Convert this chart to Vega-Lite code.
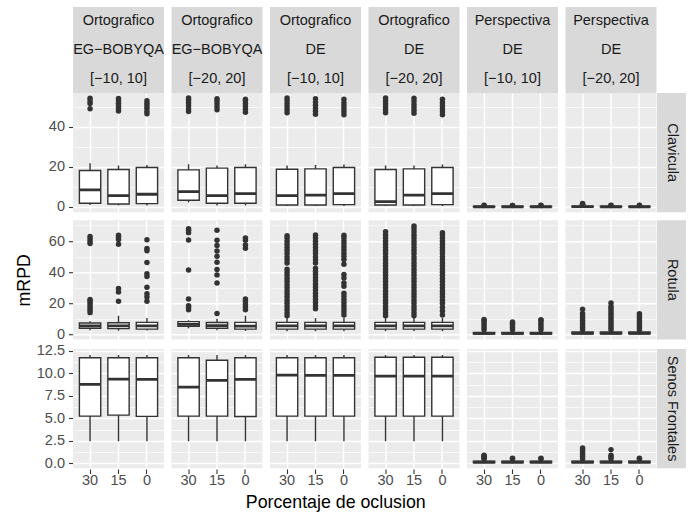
{
"$schema": "https://vega.github.io/schema/vega-lite/v6.json",
"padding": {"left": 15, "top": 7, "right": 6, "bottom": 2},
"autosize": {"type": "pad"},
"background": "white",
"config": {
  "font": "Liberation Sans",
  "view": {"fill": "#EBEBEB", "stroke": null},
  "axis": {"domain": false, "gridColor": "#FFFFFF", "tickColor": "#333333", "tickWidth": 1.1, "tickSize": 4.5, "labelFontSize": 14.5, "labelColor": "#4D4D4D", "titleFontSize": 17.8, "titleFontWeight": "normal", "titleColor": "#000000", "labelFont": "Liberation Sans", "titleFont": "Liberation Sans", "labelOverlap": false},
  "axisY": {"minExtent": 37, "maxExtent": 37, "titlePadding": 3, "labelPadding": 4, "tickCount": 30},
  "axisX": {"labelPadding": 0, "gridWidth": 1.4, "labelAngle": 0}
},
"datasets": {"all": [
{"t":"s","c":1,"lab":"Ortografico\nEG−BOBYQA\n[−10, 10]"},
{"t":"s","c":2,"lab":"Ortografico\nEG−BOBYQA\n[−20, 20]"},
{"t":"s","c":3,"lab":"Ortografico\nDE\n[−10, 10]"},
{"t":"s","c":4,"lab":"Ortografico\nDE\n[−20, 20]"},
{"t":"s","c":5,"lab":"Perspectiva\nDE\n[−10, 10]"},
{"t":"s","c":6,"lab":"Perspectiva\nDE\n[−20, 20]"},
{"t":"r","g":"C","lab":"Clavicula"},
{"t":"r","g":"R","lab":"Rotula"},
{"t":"r","g":"S","lab":"Senos Frontales"},
{"t":"b","g":"C","c":1,"x":"30","lo":1.0,"q1":1.85,"md":8.5,"q3":18.2,"hi":21.8},
{"t":"b","g":"C","c":1,"x":"15","lo":0.8,"q1":1.5,"md":5.7,"q3":18.7,"hi":20.7},
{"t":"b","g":"C","c":1,"x":"0","lo":0.8,"q1":1.7,"md":6.35,"q3":19.7,"hi":21.0},
{"t":"b","g":"C","c":2,"x":"30","lo":2.3,"q1":3.35,"md":7.7,"q3":18.5,"hi":21.3},
{"t":"b","g":"C","c":2,"x":"15","lo":0.8,"q1":1.85,"md":5.7,"q3":19.4,"hi":20.7},
{"t":"b","g":"C","c":2,"x":"0","lo":0.8,"q1":1.85,"md":6.7,"q3":19.7,"hi":21.3},
{"t":"b","g":"C","c":3,"x":"30","lo":0.5,"q1":1.0,"md":5.7,"q3":18.85,"hi":20.7},
{"t":"b","g":"C","c":3,"x":"15","lo":0.5,"q1":1.0,"md":5.95,"q3":19.0,"hi":21.0},
{"t":"b","g":"C","c":3,"x":"0","lo":0.5,"q1":1.2,"md":6.7,"q3":19.7,"hi":21.2},
{"t":"b","g":"C","c":4,"x":"30","lo":0.5,"q1":1.0,"md":2.7,"q3":18.7,"hi":20.7},
{"t":"b","g":"C","c":4,"x":"15","lo":0.5,"q1":1.0,"md":5.95,"q3":19.0,"hi":20.7},
{"t":"b","g":"C","c":4,"x":"0","lo":0.5,"q1":1.2,"md":6.7,"q3":19.7,"hi":21.2},
{"t":"b","g":"C","c":5,"x":"30","lo":0.0,"q1":0.05,"md":0.12,"q3":0.3,"hi":0.6},
{"t":"b","g":"C","c":5,"x":"15","lo":0.0,"q1":0.05,"md":0.12,"q3":0.3,"hi":0.55},
{"t":"b","g":"C","c":5,"x":"0","lo":0.0,"q1":0.05,"md":0.12,"q3":0.3,"hi":0.55},
{"t":"b","g":"C","c":6,"x":"30","lo":0.0,"q1":0.05,"md":0.15,"q3":0.35,"hi":0.7},
{"t":"b","g":"C","c":6,"x":"15","lo":0.0,"q1":0.05,"md":0.12,"q3":0.3,"hi":0.55},
{"t":"b","g":"C","c":6,"x":"0","lo":0.0,"q1":0.05,"md":0.12,"q3":0.3,"hi":0.55},
{"t":"b","g":"R","c":1,"x":"30","lo":2.6,"q1":3.9,"md":5.5,"q3":7.3,"hi":8.5},
{"t":"b","g":"R","c":1,"x":"15","lo":2.3,"q1":3.7,"md":5.5,"q3":7.5,"hi":12.0},
{"t":"b","g":"R","c":1,"x":"0","lo":2.5,"q1":3.4,"md":5.5,"q3":7.7,"hi":10.5},
{"t":"b","g":"R","c":2,"x":"30","lo":3.9,"q1":5.2,"md":6.4,"q3":8.2,"hi":9.1},
{"t":"b","g":"R","c":2,"x":"15","lo":2.6,"q1":3.9,"md":5.6,"q3":7.6,"hi":10.0},
{"t":"b","g":"R","c":2,"x":"0","lo":2.2,"q1":3.4,"md":5.3,"q3":7.7,"hi":12.0},
{"t":"b","g":"R","c":3,"x":"30","lo":2.0,"q1":3.4,"md":5.5,"q3":7.7,"hi":10.5},
{"t":"b","g":"R","c":3,"x":"15","lo":2.0,"q1":3.4,"md":5.5,"q3":7.7,"hi":10.5},
{"t":"b","g":"R","c":3,"x":"0","lo":2.0,"q1":3.4,"md":5.5,"q3":7.7,"hi":10.5},
{"t":"b","g":"R","c":4,"x":"30","lo":2.0,"q1":3.4,"md":5.5,"q3":7.7,"hi":10.5},
{"t":"b","g":"R","c":4,"x":"15","lo":2.0,"q1":3.4,"md":5.5,"q3":7.7,"hi":10.5},
{"t":"b","g":"R","c":4,"x":"0","lo":2.0,"q1":3.4,"md":5.5,"q3":7.7,"hi":10.5},
{"t":"b","g":"R","c":5,"x":"30","lo":0.0,"q1":0.2,"md":0.6,"q3":1.3,"hi":2.9},
{"t":"b","g":"R","c":5,"x":"15","lo":0.0,"q1":0.2,"md":0.6,"q3":1.3,"hi":2.9},
{"t":"b","g":"R","c":5,"x":"0","lo":0.0,"q1":0.2,"md":0.6,"q3":1.3,"hi":2.9},
{"t":"b","g":"R","c":6,"x":"30","lo":0.0,"q1":0.3,"md":0.7,"q3":1.5,"hi":3.0},
{"t":"b","g":"R","c":6,"x":"15","lo":0.0,"q1":0.3,"md":0.7,"q3":1.5,"hi":3.0},
{"t":"b","g":"R","c":6,"x":"0","lo":0.0,"q1":0.3,"md":0.7,"q3":1.5,"hi":3.0},
{"t":"b","g":"S","c":1,"x":"30","lo":2.45,"q1":5.25,"md":8.78,"q3":11.75,"hi":12.05},
{"t":"b","g":"S","c":1,"x":"15","lo":2.45,"q1":5.36,"md":9.37,"q3":11.75,"hi":12.05},
{"t":"b","g":"S","c":1,"x":"0","lo":2.45,"q1":5.22,"md":9.33,"q3":11.75,"hi":12.05},
{"t":"b","g":"S","c":2,"x":"30","lo":2.45,"q1":5.25,"md":8.48,"q3":11.75,"hi":12.05},
{"t":"b","g":"S","c":2,"x":"15","lo":2.45,"q1":5.25,"md":9.22,"q3":11.46,"hi":12.05},
{"t":"b","g":"S","c":2,"x":"0","lo":2.45,"q1":5.2,"md":9.33,"q3":11.75,"hi":12.05},
{"t":"b","g":"S","c":3,"x":"30","lo":2.45,"q1":5.25,"md":9.82,"q3":11.75,"hi":12.05},
{"t":"b","g":"S","c":3,"x":"15","lo":2.45,"q1":5.25,"md":9.78,"q3":11.75,"hi":12.05},
{"t":"b","g":"S","c":3,"x":"0","lo":2.45,"q1":5.25,"md":9.78,"q3":11.75,"hi":12.05},
{"t":"b","g":"S","c":4,"x":"30","lo":2.45,"q1":5.25,"md":9.7,"q3":11.8,"hi":12.05},
{"t":"b","g":"S","c":4,"x":"15","lo":2.45,"q1":5.25,"md":9.7,"q3":11.8,"hi":12.05},
{"t":"b","g":"S","c":4,"x":"0","lo":2.45,"q1":5.25,"md":9.7,"q3":11.8,"hi":12.05},
{"t":"b","g":"S","c":5,"x":"30","lo":0.0,"q1":0.05,"md":0.12,"q3":0.22,"hi":0.45},
{"t":"b","g":"S","c":5,"x":"15","lo":0.0,"q1":0.05,"md":0.12,"q3":0.22,"hi":0.45},
{"t":"b","g":"S","c":5,"x":"0","lo":0.0,"q1":0.05,"md":0.12,"q3":0.22,"hi":0.45},
{"t":"b","g":"S","c":6,"x":"30","lo":0.0,"q1":0.05,"md":0.12,"q3":0.22,"hi":0.45},
{"t":"b","g":"S","c":6,"x":"15","lo":0.0,"q1":0.05,"md":0.12,"q3":0.22,"hi":0.45},
{"t":"b","g":"S","c":6,"x":"0","lo":0.0,"q1":0.05,"md":0.12,"q3":0.22,"hi":0.45},
{"t":"o","g":"C","c":1,"x":"30","v":49.0},{"t":"o","g":"C","c":1,"x":"30","v":51.6},{"t":"o","g":"C","c":1,"x":"30","v":52.9},{"t":"o","g":"C","c":1,"x":"30","v":54.2},
{"t":"o","g":"C","c":1,"x":"15","v":47.9},{"t":"o","g":"C","c":1,"x":"15","v":49.2},{"t":"o","g":"C","c":1,"x":"15","v":50.5},{"t":"o","g":"C","c":1,"x":"15","v":51.8},{"t":"o","g":"C","c":1,"x":"15","v":53.0},{"t":"o","g":"C","c":1,"x":"15","v":54.1},
{"t":"o","g":"C","c":1,"x":"0","v":46.5},{"t":"o","g":"C","c":1,"x":"0","v":47.8},{"t":"o","g":"C","c":1,"x":"0","v":49.2},{"t":"o","g":"C","c":1,"x":"0","v":50.5},{"t":"o","g":"C","c":1,"x":"0","v":51.8},{"t":"o","g":"C","c":1,"x":"0","v":53.0},
{"t":"o","g":"C","c":2,"x":"30","v":47.6},{"t":"o","g":"C","c":2,"x":"30","v":49.0},{"t":"o","g":"C","c":2,"x":"30","v":50.5},{"t":"o","g":"C","c":2,"x":"30","v":52.0},{"t":"o","g":"C","c":2,"x":"30","v":53.4},{"t":"o","g":"C","c":2,"x":"30","v":54.4},
{"t":"o","g":"C","c":2,"x":"15","v":48.5},{"t":"o","g":"C","c":2,"x":"15","v":50.0},{"t":"o","g":"C","c":2,"x":"15","v":51.5},{"t":"o","g":"C","c":2,"x":"15","v":53.0},{"t":"o","g":"C","c":2,"x":"15","v":54.0},
{"t":"o","g":"C","c":2,"x":"0","v":47.3},{"t":"o","g":"C","c":2,"x":"0","v":48.7},{"t":"o","g":"C","c":2,"x":"0","v":50.2},{"t":"o","g":"C","c":2,"x":"0","v":51.6},{"t":"o","g":"C","c":2,"x":"0","v":53.0},{"t":"o","g":"C","c":2,"x":"0","v":53.7},
{"t":"o","g":"C","c":3,"x":"30","v":47.0},{"t":"o","g":"C","c":3,"x":"30","v":48.5},{"t":"o","g":"C","c":3,"x":"30","v":50.0},{"t":"o","g":"C","c":3,"x":"30","v":51.5},{"t":"o","g":"C","c":3,"x":"30","v":53.0},{"t":"o","g":"C","c":3,"x":"30","v":54.4},
{"t":"o","g":"C","c":3,"x":"15","v":46.3},{"t":"o","g":"C","c":3,"x":"15","v":47.8},{"t":"o","g":"C","c":3,"x":"15","v":49.3},{"t":"o","g":"C","c":3,"x":"15","v":50.8},{"t":"o","g":"C","c":3,"x":"15","v":52.3},{"t":"o","g":"C","c":3,"x":"15","v":54.0},
{"t":"o","g":"C","c":3,"x":"0","v":46.0},{"t":"o","g":"C","c":3,"x":"0","v":47.5},{"t":"o","g":"C","c":3,"x":"0","v":49.0},{"t":"o","g":"C","c":3,"x":"0","v":50.5},{"t":"o","g":"C","c":3,"x":"0","v":52.0},{"t":"o","g":"C","c":3,"x":"0","v":53.7},
{"t":"o","g":"C","c":4,"x":"30","v":47.0},{"t":"o","g":"C","c":4,"x":"30","v":48.5},{"t":"o","g":"C","c":4,"x":"30","v":50.0},{"t":"o","g":"C","c":4,"x":"30","v":51.5},{"t":"o","g":"C","c":4,"x":"30","v":53.0},{"t":"o","g":"C","c":4,"x":"30","v":54.4},
{"t":"o","g":"C","c":4,"x":"15","v":46.8},{"t":"o","g":"C","c":4,"x":"15","v":48.3},{"t":"o","g":"C","c":4,"x":"15","v":49.8},{"t":"o","g":"C","c":4,"x":"15","v":51.3},{"t":"o","g":"C","c":4,"x":"15","v":52.8},{"t":"o","g":"C","c":4,"x":"15","v":54.2},
{"t":"o","g":"C","c":4,"x":"0","v":46.0},{"t":"o","g":"C","c":4,"x":"0","v":47.5},{"t":"o","g":"C","c":4,"x":"0","v":49.0},{"t":"o","g":"C","c":4,"x":"0","v":50.5},{"t":"o","g":"C","c":4,"x":"0","v":52.0},{"t":"o","g":"C","c":4,"x":"0","v":53.7},
{"t":"o","g":"C","c":5,"x":"30","v":0.75},{"t":"o","g":"C","c":5,"x":"30","v":0.9},
{"t":"o","g":"C","c":5,"x":"15","v":0.7},{"t":"o","g":"C","c":5,"x":"15","v":0.8},
{"t":"o","g":"C","c":5,"x":"0","v":0.7},{"t":"o","g":"C","c":5,"x":"0","v":0.85},
{"t":"o","g":"C","c":6,"x":"30","v":0.8},{"t":"o","g":"C","c":6,"x":"30","v":1.1},{"t":"o","g":"C","c":6,"x":"30","v":1.4},{"t":"o","g":"C","c":6,"x":"30","v":1.7},
{"t":"o","g":"C","c":6,"x":"15","v":0.7},{"t":"o","g":"C","c":6,"x":"15","v":0.9},
{"t":"o","g":"C","c":6,"x":"0","v":0.7},{"t":"o","g":"C","c":6,"x":"0","v":0.85},
{"t":"o","g":"R","c":1,"x":"30","v":14.0},{"t":"o","g":"R","c":1,"x":"30","v":15.5},{"t":"o","g":"R","c":1,"x":"30","v":17.0},{"t":"o","g":"R","c":1,"x":"30","v":18.5},{"t":"o","g":"R","c":1,"x":"30","v":20.0},{"t":"o","g":"R","c":1,"x":"30","v":21.5},{"t":"o","g":"R","c":1,"x":"30","v":22.5},{"t":"o","g":"R","c":1,"x":"30","v":58.5},{"t":"o","g":"R","c":1,"x":"30","v":60.0},{"t":"o","g":"R","c":1,"x":"30","v":61.5},{"t":"o","g":"R","c":1,"x":"30","v":63.0},
{"t":"o","g":"R","c":1,"x":"15","v":21.3},{"t":"o","g":"R","c":1,"x":"15","v":27.3},{"t":"o","g":"R","c":1,"x":"15","v":29.5},{"t":"o","g":"R","c":1,"x":"15","v":58.0},{"t":"o","g":"R","c":1,"x":"15","v":61.0},{"t":"o","g":"R","c":1,"x":"15","v":62.5},{"t":"o","g":"R","c":1,"x":"15","v":63.8},
{"t":"o","g":"R","c":1,"x":"0","v":21.3},{"t":"o","g":"R","c":1,"x":"0","v":24.0},{"t":"o","g":"R","c":1,"x":"0","v":26.2},{"t":"o","g":"R","c":1,"x":"0","v":30.3},{"t":"o","g":"R","c":1,"x":"0","v":37.2},{"t":"o","g":"R","c":1,"x":"0","v":39.1},{"t":"o","g":"R","c":1,"x":"0","v":46.3},{"t":"o","g":"R","c":1,"x":"0","v":53.8},{"t":"o","g":"R","c":1,"x":"0","v":55.3},{"t":"o","g":"R","c":1,"x":"0","v":60.9},
{"t":"o","g":"R","c":2,"x":"30","v":15.9},{"t":"o","g":"R","c":2,"x":"30","v":17.5},{"t":"o","g":"R","c":2,"x":"30","v":18.5},{"t":"o","g":"R","c":2,"x":"30","v":22.8},{"t":"o","g":"R","c":2,"x":"30","v":41.5},{"t":"o","g":"R","c":2,"x":"30","v":60.8},{"t":"o","g":"R","c":2,"x":"30","v":65.5},{"t":"o","g":"R","c":2,"x":"30","v":67.0},{"t":"o","g":"R","c":2,"x":"30","v":68.0},
{"t":"o","g":"R","c":2,"x":"15","v":13.4},{"t":"o","g":"R","c":2,"x":"15","v":33.1},{"t":"o","g":"R","c":2,"x":"15","v":38.3},{"t":"o","g":"R","c":2,"x":"15","v":41.7},{"t":"o","g":"R","c":2,"x":"15","v":46.5},{"t":"o","g":"R","c":2,"x":"15","v":50.3},{"t":"o","g":"R","c":2,"x":"15","v":53.7},{"t":"o","g":"R","c":2,"x":"15","v":57.2},{"t":"o","g":"R","c":2,"x":"15","v":60.6},{"t":"o","g":"R","c":2,"x":"15","v":67.1},
{"t":"o","g":"R","c":2,"x":"0","v":15.9},{"t":"o","g":"R","c":2,"x":"0","v":17.5},{"t":"o","g":"R","c":2,"x":"0","v":19.3},{"t":"o","g":"R","c":2,"x":"0","v":21.3},{"t":"o","g":"R","c":2,"x":"0","v":22.8},{"t":"o","g":"R","c":2,"x":"0","v":55.5},{"t":"o","g":"R","c":2,"x":"0","v":57.5},{"t":"o","g":"R","c":2,"x":"0","v":60.6},{"t":"o","g":"R","c":2,"x":"0","v":62.0},
{"t":"o","g":"R","c":3,"x":"30","v":12},{"t":"o","g":"R","c":3,"x":"30","v":14},{"t":"o","g":"R","c":3,"x":"30","v":16},{"t":"o","g":"R","c":3,"x":"30","v":18},{"t":"o","g":"R","c":3,"x":"30","v":20},{"t":"o","g":"R","c":3,"x":"30","v":22},{"t":"o","g":"R","c":3,"x":"30","v":24},{"t":"o","g":"R","c":3,"x":"30","v":26},{"t":"o","g":"R","c":3,"x":"30","v":28},{"t":"o","g":"R","c":3,"x":"30","v":30},{"t":"o","g":"R","c":3,"x":"30","v":32},{"t":"o","g":"R","c":3,"x":"30","v":34},{"t":"o","g":"R","c":3,"x":"30","v":36},{"t":"o","g":"R","c":3,"x":"30","v":38},{"t":"o","g":"R","c":3,"x":"30","v":40},{"t":"o","g":"R","c":3,"x":"30","v":42},{"t":"o","g":"R","c":3,"x":"30","v":46},{"t":"o","g":"R","c":3,"x":"30","v":48},{"t":"o","g":"R","c":3,"x":"30","v":50},{"t":"o","g":"R","c":3,"x":"30","v":52},{"t":"o","g":"R","c":3,"x":"30","v":54},{"t":"o","g":"R","c":3,"x":"30","v":56},{"t":"o","g":"R","c":3,"x":"30","v":58},{"t":"o","g":"R","c":3,"x":"30","v":60},{"t":"o","g":"R","c":3,"x":"30","v":62},{"t":"o","g":"R","c":3,"x":"30","v":63.5},
{"t":"o","g":"R","c":3,"x":"15","v":16.5},{"t":"o","g":"R","c":3,"x":"15","v":18.5},{"t":"o","g":"R","c":3,"x":"15","v":20.5},{"t":"o","g":"R","c":3,"x":"15","v":22.5},{"t":"o","g":"R","c":3,"x":"15","v":24.5},{"t":"o","g":"R","c":3,"x":"15","v":26.5},{"t":"o","g":"R","c":3,"x":"15","v":28.5},{"t":"o","g":"R","c":3,"x":"15","v":30.5},{"t":"o","g":"R","c":3,"x":"15","v":32.5},{"t":"o","g":"R","c":3,"x":"15","v":34.5},{"t":"o","g":"R","c":3,"x":"15","v":36.5},{"t":"o","g":"R","c":3,"x":"15","v":38.5},{"t":"o","g":"R","c":3,"x":"15","v":40.5},{"t":"o","g":"R","c":3,"x":"15","v":42.5},{"t":"o","g":"R","c":3,"x":"15","v":46},{"t":"o","g":"R","c":3,"x":"15","v":48},{"t":"o","g":"R","c":3,"x":"15","v":50},{"t":"o","g":"R","c":3,"x":"15","v":52},{"t":"o","g":"R","c":3,"x":"15","v":54},{"t":"o","g":"R","c":3,"x":"15","v":56},{"t":"o","g":"R","c":3,"x":"15","v":58},{"t":"o","g":"R","c":3,"x":"15","v":60},{"t":"o","g":"R","c":3,"x":"15","v":62},{"t":"o","g":"R","c":3,"x":"15","v":64},
{"t":"o","g":"R","c":3,"x":"0","v":12.5},{"t":"o","g":"R","c":3,"x":"0","v":14.5},{"t":"o","g":"R","c":3,"x":"0","v":16.5},{"t":"o","g":"R","c":3,"x":"0","v":18.5},{"t":"o","g":"R","c":3,"x":"0","v":20.5},{"t":"o","g":"R","c":3,"x":"0","v":22.5},{"t":"o","g":"R","c":3,"x":"0","v":24.5},{"t":"o","g":"R","c":3,"x":"0","v":26.5},{"t":"o","g":"R","c":3,"x":"0","v":31},{"t":"o","g":"R","c":3,"x":"0","v":33},{"t":"o","g":"R","c":3,"x":"0","v":36.3},{"t":"o","g":"R","c":3,"x":"0","v":38.5},{"t":"o","g":"R","c":3,"x":"0","v":45.2},{"t":"o","g":"R","c":3,"x":"0","v":48.2},{"t":"o","g":"R","c":3,"x":"0","v":50.3},{"t":"o","g":"R","c":3,"x":"0","v":52.3},{"t":"o","g":"R","c":3,"x":"0","v":54.3},{"t":"o","g":"R","c":3,"x":"0","v":56.3},{"t":"o","g":"R","c":3,"x":"0","v":58.3},{"t":"o","g":"R","c":3,"x":"0","v":60.3},{"t":"o","g":"R","c":3,"x":"0","v":62.3},{"t":"o","g":"R","c":3,"x":"0","v":63.8},
{"t":"o","g":"R","c":4,"x":"30","v":12},{"t":"o","g":"R","c":4,"x":"30","v":14},{"t":"o","g":"R","c":4,"x":"30","v":16},{"t":"o","g":"R","c":4,"x":"30","v":18},{"t":"o","g":"R","c":4,"x":"30","v":20},{"t":"o","g":"R","c":4,"x":"30","v":22},{"t":"o","g":"R","c":4,"x":"30","v":24},{"t":"o","g":"R","c":4,"x":"30","v":26},{"t":"o","g":"R","c":4,"x":"30","v":28},{"t":"o","g":"R","c":4,"x":"30","v":30},{"t":"o","g":"R","c":4,"x":"30","v":32},{"t":"o","g":"R","c":4,"x":"30","v":34},{"t":"o","g":"R","c":4,"x":"30","v":36},{"t":"o","g":"R","c":4,"x":"30","v":38},{"t":"o","g":"R","c":4,"x":"30","v":40},{"t":"o","g":"R","c":4,"x":"30","v":42},{"t":"o","g":"R","c":4,"x":"30","v":44},{"t":"o","g":"R","c":4,"x":"30","v":46},{"t":"o","g":"R","c":4,"x":"30","v":48},{"t":"o","g":"R","c":4,"x":"30","v":50},{"t":"o","g":"R","c":4,"x":"30","v":52},{"t":"o","g":"R","c":4,"x":"30","v":54},{"t":"o","g":"R","c":4,"x":"30","v":56},{"t":"o","g":"R","c":4,"x":"30","v":58},{"t":"o","g":"R","c":4,"x":"30","v":60},{"t":"o","g":"R","c":4,"x":"30","v":62},{"t":"o","g":"R","c":4,"x":"30","v":64},{"t":"o","g":"R","c":4,"x":"30","v":66},
{"t":"o","g":"R","c":4,"x":"15","v":12},{"t":"o","g":"R","c":4,"x":"15","v":14},{"t":"o","g":"R","c":4,"x":"15","v":16},{"t":"o","g":"R","c":4,"x":"15","v":18},{"t":"o","g":"R","c":4,"x":"15","v":20},{"t":"o","g":"R","c":4,"x":"15","v":22},{"t":"o","g":"R","c":4,"x":"15","v":24},{"t":"o","g":"R","c":4,"x":"15","v":26},{"t":"o","g":"R","c":4,"x":"15","v":28},{"t":"o","g":"R","c":4,"x":"15","v":30},{"t":"o","g":"R","c":4,"x":"15","v":32},{"t":"o","g":"R","c":4,"x":"15","v":34},{"t":"o","g":"R","c":4,"x":"15","v":36},{"t":"o","g":"R","c":4,"x":"15","v":38},{"t":"o","g":"R","c":4,"x":"15","v":40},{"t":"o","g":"R","c":4,"x":"15","v":42},{"t":"o","g":"R","c":4,"x":"15","v":44},{"t":"o","g":"R","c":4,"x":"15","v":46},{"t":"o","g":"R","c":4,"x":"15","v":48},{"t":"o","g":"R","c":4,"x":"15","v":50},{"t":"o","g":"R","c":4,"x":"15","v":52},{"t":"o","g":"R","c":4,"x":"15","v":54},{"t":"o","g":"R","c":4,"x":"15","v":56},{"t":"o","g":"R","c":4,"x":"15","v":58},{"t":"o","g":"R","c":4,"x":"15","v":60},{"t":"o","g":"R","c":4,"x":"15","v":62},{"t":"o","g":"R","c":4,"x":"15","v":64},{"t":"o","g":"R","c":4,"x":"15","v":66},{"t":"o","g":"R","c":4,"x":"15","v":68},{"t":"o","g":"R","c":4,"x":"15","v":69.8},
{"t":"o","g":"R","c":4,"x":"0","v":12.5},{"t":"o","g":"R","c":4,"x":"0","v":15},{"t":"o","g":"R","c":4,"x":"0","v":17.5},{"t":"o","g":"R","c":4,"x":"0","v":20},{"t":"o","g":"R","c":4,"x":"0","v":22},{"t":"o","g":"R","c":4,"x":"0","v":24},{"t":"o","g":"R","c":4,"x":"0","v":26},{"t":"o","g":"R","c":4,"x":"0","v":28},{"t":"o","g":"R","c":4,"x":"0","v":30},{"t":"o","g":"R","c":4,"x":"0","v":32},{"t":"o","g":"R","c":4,"x":"0","v":34},{"t":"o","g":"R","c":4,"x":"0","v":36},{"t":"o","g":"R","c":4,"x":"0","v":38},{"t":"o","g":"R","c":4,"x":"0","v":40},{"t":"o","g":"R","c":4,"x":"0","v":42},{"t":"o","g":"R","c":4,"x":"0","v":44},{"t":"o","g":"R","c":4,"x":"0","v":46},{"t":"o","g":"R","c":4,"x":"0","v":48},{"t":"o","g":"R","c":4,"x":"0","v":50},{"t":"o","g":"R","c":4,"x":"0","v":52},{"t":"o","g":"R","c":4,"x":"0","v":54},{"t":"o","g":"R","c":4,"x":"0","v":56},{"t":"o","g":"R","c":4,"x":"0","v":58},{"t":"o","g":"R","c":4,"x":"0","v":60},{"t":"o","g":"R","c":4,"x":"0","v":62},{"t":"o","g":"R","c":4,"x":"0","v":64},{"t":"o","g":"R","c":4,"x":"0","v":65.5},
{"t":"o","g":"R","c":5,"x":"30","v":3},{"t":"o","g":"R","c":5,"x":"30","v":4.5},{"t":"o","g":"R","c":5,"x":"30","v":6},{"t":"o","g":"R","c":5,"x":"30","v":7.5},{"t":"o","g":"R","c":5,"x":"30","v":9},{"t":"o","g":"R","c":5,"x":"30","v":9.6},
{"t":"o","g":"R","c":5,"x":"15","v":3},{"t":"o","g":"R","c":5,"x":"15","v":4.5},{"t":"o","g":"R","c":5,"x":"15","v":6},{"t":"o","g":"R","c":5,"x":"15","v":7},{"t":"o","g":"R","c":5,"x":"15","v":8},
{"t":"o","g":"R","c":5,"x":"0","v":3},{"t":"o","g":"R","c":5,"x":"0","v":4.5},{"t":"o","g":"R","c":5,"x":"0","v":6},{"t":"o","g":"R","c":5,"x":"0","v":7.5},{"t":"o","g":"R","c":5,"x":"0","v":9},{"t":"o","g":"R","c":5,"x":"0","v":9.5},
{"t":"o","g":"R","c":6,"x":"30","v":3},{"t":"o","g":"R","c":6,"x":"30","v":4.5},{"t":"o","g":"R","c":6,"x":"30","v":6},{"t":"o","g":"R","c":6,"x":"30","v":7.5},{"t":"o","g":"R","c":6,"x":"30","v":9},{"t":"o","g":"R","c":6,"x":"30","v":10.5},{"t":"o","g":"R","c":6,"x":"30","v":12},{"t":"o","g":"R","c":6,"x":"30","v":13.5},{"t":"o","g":"R","c":6,"x":"30","v":16.2},
{"t":"o","g":"R","c":6,"x":"15","v":3},{"t":"o","g":"R","c":6,"x":"15","v":4.5},{"t":"o","g":"R","c":6,"x":"15","v":6},{"t":"o","g":"R","c":6,"x":"15","v":7.5},{"t":"o","g":"R","c":6,"x":"15","v":9},{"t":"o","g":"R","c":6,"x":"15","v":10.5},{"t":"o","g":"R","c":6,"x":"15","v":12},{"t":"o","g":"R","c":6,"x":"15","v":13.5},{"t":"o","g":"R","c":6,"x":"15","v":15},{"t":"o","g":"R","c":6,"x":"15","v":16.5},{"t":"o","g":"R","c":6,"x":"15","v":18},{"t":"o","g":"R","c":6,"x":"15","v":20.2},
{"t":"o","g":"R","c":6,"x":"0","v":3},{"t":"o","g":"R","c":6,"x":"0","v":4.5},{"t":"o","g":"R","c":6,"x":"0","v":6},{"t":"o","g":"R","c":6,"x":"0","v":7.5},{"t":"o","g":"R","c":6,"x":"0","v":9},{"t":"o","g":"R","c":6,"x":"0","v":10.5},{"t":"o","g":"R","c":6,"x":"0","v":12},{"t":"o","g":"R","c":6,"x":"0","v":13.3},
{"t":"o","g":"S","c":5,"x":"30","v":0.5},{"t":"o","g":"S","c":5,"x":"30","v":0.6},{"t":"o","g":"S","c":5,"x":"30","v":0.7},{"t":"o","g":"S","c":5,"x":"30","v":0.8},{"t":"o","g":"S","c":5,"x":"30","v":0.9},
{"t":"o","g":"S","c":5,"x":"15","v":0.5},{"t":"o","g":"S","c":5,"x":"15","v":0.55},
{"t":"o","g":"S","c":5,"x":"0","v":0.5},{"t":"o","g":"S","c":5,"x":"0","v":0.55},
{"t":"o","g":"S","c":6,"x":"30","v":0.5},{"t":"o","g":"S","c":6,"x":"30","v":0.75},{"t":"o","g":"S","c":6,"x":"30","v":1.0},{"t":"o","g":"S","c":6,"x":"30","v":1.25},{"t":"o","g":"S","c":6,"x":"30","v":1.5},{"t":"o","g":"S","c":6,"x":"30","v":1.7},
{"t":"o","g":"S","c":6,"x":"15","v":0.5},{"t":"o","g":"S","c":6,"x":"15","v":0.7},{"t":"o","g":"S","c":6,"x":"15","v":0.9},{"t":"o","g":"S","c":6,"x":"15","v":1.52},
{"t":"o","g":"S","c":6,"x":"0","v":0.5},{"t":"o","g":"S","c":6,"x":"0","v":0.55}
]},
"spacing": 0,
"vconcat": [
 {
  "data": {"name": "all"},
  "transform": [{"filter": "datum.t === 's'"}],
  "facet": {"column": {"field": "c", "type": "ordinal", "header": null}},
  "spacing": {"column": 7.5},
  "spec": {
   "width": 91, "height": 86,
   "view": {"fill": "#D9D9D9", "stroke": null},
   "mark": {"type": "text", "clip": true, "fontSize": 14.5, "color": "#1A1A1A", "lineHeight": 29, "lineBreak": "\n", "baseline": "middle", "align": "center", "dy": -29},
   "encoding": {
    "text": {"field": "lab", "type": "nominal"},
    "y": {"datum": "m", "type": "nominal", "axis": {"labels": false, "ticks": false, "grid": false, "title": "mRPD", "titleOpacity": 0}}
   }
  }
 },
 {
  "spacing": 3.2,
  "vconcat": [
   {
    "spacing": 0,
    "hconcat": [
     {
      "data": {"name": "all"},
      "transform": [{"filter": "datum.g === 'C' && (datum.t === 'b' || datum.t === 'o')"}],
      "facet": {"column": {"field": "c", "type": "ordinal", "header": null}},
      "spacing": {"column": 7.5},
      "spec": {
       "width": 91, "height": 119.3,
       "encoding": {"x": {"field": "x", "type": "nominal", "scale": {"domain": ["30", "15", "0"], "paddingInner": 0.25, "paddingOuter": 0.225}, "axis": {"labels": false, "ticks": false, "title": null, "grid": true, "minExtent": 0, "maxExtent": 0}}},
       "layer": [
        {"transform": [{"filter": "datum.t === 'o'"}], "mark": {"type": "circle", "size": 30, "color": "#333333", "opacity": 1},
         "encoding": {"y": {"field": "v", "type": "quantitative", "title": "mRPD", "scale": {"domain": [-2.65, 56.85], "nice": false, "zero": false},
          "axis": {"values": [0, 10, 20, 30, 40, 50], "tickCount": 30, "labelOverlap": false, "labelExpr": "datum.value % 20 === 0 ? datum.label : ''", "gridWidth": {"condition": {"test": "datum.value % 20 === 0", "value": 1.4}, "value": 0.7}, "tickOpacity": {"condition": {"test": "datum.value % 20 === 0", "value": 1}, "value": 0}, "titleOpacity": 0}}}},
        {"transform": [{"filter": "datum.t === 'b'"}], "mark": {"type": "rule", "color": "#333333", "strokeWidth": 1.4},
         "encoding": {"y": {"field": "lo", "type": "quantitative", "title": "mRPD"}, "y2": {"field": "hi"}}},
        {"transform": [{"filter": "datum.t === 'b'"}], "mark": {"type": "bar", "fill": "#FFFFFF", "stroke": "#333333", "strokeWidth": 1.4},
         "encoding": {"y": {"field": "q1", "type": "quantitative", "title": "mRPD"}, "y2": {"field": "q3"}}},
        {"transform": [{"filter": "datum.t === 'b'"}], "mark": {"type": "bar", "fillOpacity": 0, "stroke": "#333333", "strokeWidth": 2.8},
         "encoding": {"y": {"field": "md", "type": "quantitative", "title": "mRPD"}, "y2": {"field": "md"}}}
       ]
      }
     },
     {
      "width": 29, "height": 119.3,
      "view": {"fill": "#D9D9D9", "stroke": null},
      "data": {"name": "all"},
      "transform": [{"filter": "datum.t === 'r' && datum.g === 'C'"}],
      "mark": {"type": "text", "angle": 90, "fontSize": 14.5, "color": "#1A1A1A", "baseline": "middle", "align": "center"},
      "encoding": {"text": {"field": "lab", "type": "nominal"}}
     }
    ]
   },
   {
    "spacing": 0.8,
    "vconcat": [
     {
      "spacing": 0,
      "hconcat": [
       {
        "data": {"name": "all"},
        "transform": [{"filter": "datum.g === 'R' && (datum.t === 'b' || datum.t === 'o')"}],
        "facet": {"column": {"field": "c", "type": "ordinal", "header": null}},
        "spacing": {"column": 7.5},
        "spec": {
         "width": 91, "height": 119.3,
         "encoding": {"x": {"field": "x", "type": "nominal", "scale": {"domain": ["30", "15", "0"], "paddingInner": 0.25, "paddingOuter": 0.225}, "axis": {"labels": false, "ticks": false, "title": null, "grid": true, "minExtent": 0, "maxExtent": 0}}},
         "layer": [
          {"transform": [{"filter": "datum.t === 'o'"}], "mark": {"type": "circle", "size": 30, "color": "#333333", "opacity": 1},
           "encoding": {"y": {"field": "v", "type": "quantitative", "title": "mRPD", "scale": {"domain": [-3.3, 73.5], "nice": false, "zero": false},
            "axis": {"values": [0, 10, 20, 30, 40, 50, 60, 70], "tickCount": 30, "labelOverlap": false, "labelExpr": "datum.value % 20 === 0 ? datum.label : ''", "gridWidth": {"condition": {"test": "datum.value % 20 === 0", "value": 1.4}, "value": 0.7}, "tickOpacity": {"condition": {"test": "datum.value % 20 === 0", "value": 1}, "value": 0}}}}},
          {"transform": [{"filter": "datum.t === 'b'"}], "mark": {"type": "rule", "color": "#333333", "strokeWidth": 1.4},
           "encoding": {"y": {"field": "lo", "type": "quantitative", "title": "mRPD"}, "y2": {"field": "hi"}}},
          {"transform": [{"filter": "datum.t === 'b'"}], "mark": {"type": "bar", "fill": "#FFFFFF", "stroke": "#333333", "strokeWidth": 1.4},
           "encoding": {"y": {"field": "q1", "type": "quantitative", "title": "mRPD"}, "y2": {"field": "q3"}}},
          {"transform": [{"filter": "datum.t === 'b'"}], "mark": {"type": "bar", "fillOpacity": 0, "stroke": "#333333", "strokeWidth": 2.8},
           "encoding": {"y": {"field": "md", "type": "quantitative", "title": "mRPD"}, "y2": {"field": "md"}}}
         ]
        }
       },
       {
        "width": 29, "height": 119.3,
        "view": {"fill": "#D9D9D9", "stroke": null},
        "data": {"name": "all"},
        "transform": [{"filter": "datum.t === 'r' && datum.g === 'R'"}],
        "mark": {"type": "text", "angle": 90, "fontSize": 14.5, "color": "#1A1A1A", "baseline": "middle", "align": "center"},
        "encoding": {"text": {"field": "lab", "type": "nominal"}}
       }
      ]
     },
     {
      "spacing": 0,
      "hconcat": [
       {
        "data": {"name": "all"},
        "transform": [{"filter": "datum.g === 'S' && (datum.t === 'b' || datum.t === 'o')"}],
        "facet": {"column": {"field": "c", "type": "ordinal", "header": null}},
        "spacing": {"column": 7.5},
        "title": {"text": "Porcentaje de oclusion", "orient": "bottom", "anchor": "middle", "fontSize": 17.8, "fontWeight": "normal", "color": "#000000", "font": "Liberation Sans", "offset": 7},
        "spec": {
         "width": 91, "height": 119.3,
         "encoding": {"x": {"field": "x", "type": "nominal", "scale": {"domain": ["30", "15", "0"], "paddingInner": 0.25, "paddingOuter": 0.225}, "axis": {"title": null, "grid": true}}},
         "layer": [
          {"transform": [{"filter": "datum.t === 'o'"}], "mark": {"type": "circle", "size": 30, "color": "#333333", "opacity": 1},
           "encoding": {"y": {"field": "v", "type": "quantitative", "title": "mRPD", "scale": {"domain": [-0.56, 12.72], "nice": false, "zero": false},
            "axis": {"values": [0, 1.25, 2.5, 3.75, 5, 6.25, 7.5, 8.75, 10, 11.25, 12.5], "tickCount": 30, "labelOverlap": false, "format": ".1f", "labelExpr": "datum.value % 2.5 === 0 ? datum.label : ''", "gridWidth": {"condition": {"test": "datum.value % 2.5 === 0", "value": 1.4}, "value": 0.7}, "tickOpacity": {"condition": {"test": "datum.value % 2.5 === 0", "value": 1}, "value": 0}, "titleOpacity": 0}}}},
          {"transform": [{"filter": "datum.t === 'b'"}], "mark": {"type": "rule", "color": "#333333", "strokeWidth": 1.4},
           "encoding": {"y": {"field": "lo", "type": "quantitative", "title": "mRPD"}, "y2": {"field": "hi"}}},
          {"transform": [{"filter": "datum.t === 'b'"}], "mark": {"type": "bar", "fill": "#FFFFFF", "stroke": "#333333", "strokeWidth": 1.4},
           "encoding": {"y": {"field": "q1", "type": "quantitative", "title": "mRPD"}, "y2": {"field": "q3"}}},
          {"transform": [{"filter": "datum.t === 'b'"}], "mark": {"type": "bar", "fillOpacity": 0, "stroke": "#333333", "strokeWidth": 2.8},
           "encoding": {"y": {"field": "md", "type": "quantitative", "title": "mRPD"}, "y2": {"field": "md"}}}
         ]
        }
       },
       {
        "width": 29, "height": 119.3,
        "view": {"fill": "#D9D9D9", "stroke": null},
        "data": {"name": "all"},
        "transform": [{"filter": "datum.t === 'r' && datum.g === 'S'"}],
        "mark": {"type": "text", "angle": 90, "fontSize": 14.5, "color": "#1A1A1A", "baseline": "middle", "align": "center"},
        "encoding": {"text": {"field": "lab", "type": "nominal"}}
       }
      ]
     }
    ]
   }
  ]
 }
]
}
